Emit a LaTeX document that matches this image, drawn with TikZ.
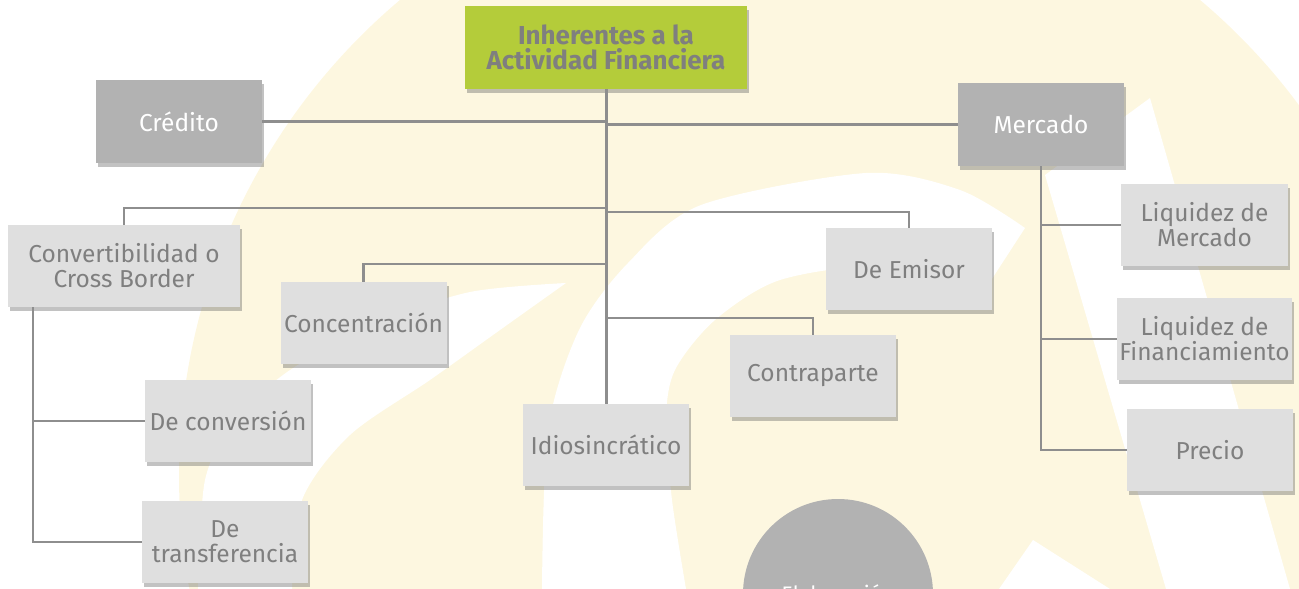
\documentclass[tikz,border=0pt]{standalone}
\usepackage{fontspec}
\setmainfont{Fira Sans}
\usepackage{tikz}
\usetikzlibrary{shadows}
\definecolor{cream}{HTML}{FDF7E0}
\definecolor{rootgreen}{HTML}{B4CC3A}
\definecolor{boxdark}{HTML}{B2B2B2}
\definecolor{boxlight}{HTML}{DFDFDF}
\definecolor{txtgray}{HTML}{7F7F7F}
\definecolor{wire}{HTML}{8E8E8E}
\tikzset{
  box/.style={rectangle, inner sep=2pt, align=center,
    drop shadow={shadow xshift=2pt, shadow yshift=-4pt, opacity=.4, fill=black!60}},
  head/.style={box, fill=rootgreen, text=txtgray, minimum width=282pt, minimum height=83pt,
    font=\bfseries\fontsize{26}{25}\selectfont},
  dark/.style={box, fill=boxdark, text=white, minimum width=166pt, minimum height=83pt,
    font=\fontsize{24.5}{25}\selectfont},
  leaf/.style={box, fill=boxlight, text=txtgray, minimum width=166pt, minimum height=82pt,
    font=\fontsize{24.5}{25}\selectfont},
  trunk/.style={line width=3pt, draw=wire},
  link/.style={line width=2.1pt, draw=wire},
}

\begin{document}
\begin{tikzpicture}[x=1pt, y=-1pt]
  \useasboundingbox (0,0) rectangle (1299,589);
  \clip (0,0) rectangle (1299,589);

  % watermark behind the chart
  \fill[cream] (800,475) circle[radius=621];
  \fill[white] plot[smooth] coordinates {(198,589) (205,480) (235,420) (290,370) (380,322) (470,292) (566,283)}
    -- plot[smooth] coordinates {(566,283) (500,330) (430,380) (350,435) (302,500) (292,589)} -- cycle;
  \fill[white] plot[smooth] coordinates {(542,589) (548,430) (579,330) (628,263) (701,205) (866,173) (960,190) (1025,228)}
    -- plot[smooth] coordinates {(975,305) (880,268) (780,280) (715,320) (675,370) (666,420) (672,500) (686,589)} -- cycle;
  \fill[white] (1045,175) -- (1150,98) -- (1290,589) -- (1166,589) -- cycle;
  \fill[white] (999,589) -- (1033,540) -- (1110,589) -- cycle;

  \node[head] (root) at (606,47.5) {Inherentes a la\\Actividad Financiera};
  \node[dark] (cred) at (179,121.5) {Crédito};
  \node[dark] (merc) at (1041,124.5) {Mercado};

  \node[leaf, minimum width=232pt] (conv) at (124,266) {Convertibilidad o\\Cross Border};
  \node[leaf] (conc) at (363.5,323) {Concentración};
  \node[leaf] (emis) at (909,269) {De Emisor};
  \node[leaf] (contra) at (813,376) {Contraparte};
  \node[leaf] (idio) at (606,445) {Idiosincrático};
  \node[leaf] (dconv) at (228,421) {De conversión};
  \node[leaf] (dtrans) at (225,542) {De\\transferencia};
  \node[leaf, minimum width=167pt] (liqm) at (1204.5,225) {Liquidez de\\Mercado};
  \node[leaf, minimum width=167pt] (liqf) at (1204.5,339) {Liquidez de\\Financiamiento};
  \node[leaf] (prec) at (1210,450) {Precio};

  \node[circle, fill=boxdark, minimum size=190pt, inner sep=0pt] (elab) at (838,594) {};
  \node[text=white, anchor=base, font=\fontsize{21}{24}\selectfont] (elabtxt) at (838,601) {Elaboración};

  % joints on the trunk
  \coordinate (jconv) at (606,208);
  \coordinate (jemis) at (606,212);
  \coordinate (jconc) at (606,264);
  \coordinate (jcontra) at (606,318);
  \coordinate (cvdrop) at (33,307); % drop under Cross Border

  \draw[trunk] (root.south) -- (idio.north);
  \draw[link] (cred.east) -- (cred.east -| root.south);
  \draw[link] (merc.west) -- (merc.west -| root.south);
  \draw[link] (jconv) -| (conv.north);
  \draw[link] (jemis) -| (emis.north);
  \draw[link] (jconc) -| (conc.north);
  \draw[link] (jcontra) -| (contra.north);

  \draw[link] (merc.south) |- (prec.west);
  \draw[link] (merc.south |- liqm.west) -- (liqm.west);
  \draw[link] (merc.south |- liqf.west) -- (liqf.west);

  \draw[link] (cvdrop) |- (dtrans.west);
  \draw[link] (cvdrop |- dconv.west) -- (dconv.west);
\end{tikzpicture}
\end{document}
